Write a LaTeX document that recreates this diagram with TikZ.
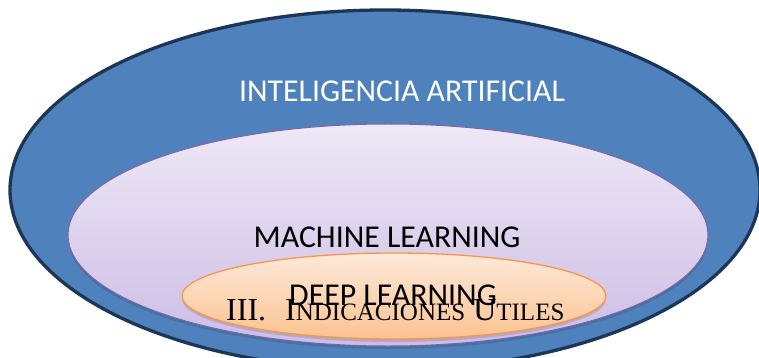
\documentclass[tikz,border=0pt]{standalone}
\usepackage{fontspec}
\setmainfont{Liberation Serif}
\newfontfamily\calfont{Carlito}
\usepackage{xcolor}
\definecolor{aiblue}{HTML}{4F81BD}
\definecolor{aiedge}{HTML}{1B3656}
\definecolor{mledge}{HTML}{8064A2}
\definecolor{mltop}{HTML}{EEE8F6}
\definecolor{mlbot}{HTML}{CDBDE5}
\definecolor{dledge}{HTML}{F79646}
\definecolor{dltop}{HTML}{FEE9DA}
\definecolor{dlbot}{HTML}{FBC391}
\newcommand{\bigsz}{\fontsize{32}{32}\selectfont}
\newcommand{\smsz}{\fontsize{25}{25}\selectfont}
\tikzset{
    aisty/.style={draw=aiedge,line width=3.3pt,fill=aiblue},
    mlsty/.style={draw=mledge,line width=1pt,top color=mltop,bottom color=mlbot},
    dlsty/.style={draw=dledge,line width=1.3pt,top color=dltop,bottom color=dlbot},
    shadsty/.style={fill=black,opacity=0.12},
    labsty/.style={font=\calfont\fontsize{31.8}{32}\selectfont,inner sep=0pt,anchor=base},
    headsty/.style={font=\bigsz,inner sep=0pt,anchor=base west},
}

\begin{document}
\begin{tikzpicture}[x=1pt,y=-1pt]
  \useasboundingbox (0,0) rectangle (759,358);
  \clip (0,0) rectangle (759,358);

  % outer
  \draw[aisty] (385,190) ellipse [x radius=375, y radius=180];
  % middle
  \fill[shadsty] (388,238) ellipse [x radius=320, y radius=111];
  \draw[mlsty] (388,235) ellipse [x radius=320, y radius=111];
  % inner
  \fill[shadsty] (394,299) ellipse [x radius=212, y radius=43];
  \draw[dlsty] (394,296) ellipse [x radius=212, y radius=43];

  \node[labsty,text=white] (ai) at (402,102) {INTELIGENCIA ARTIFICIAL};
  \node[labsty] (ml) at (387,247) {MACHINE LEARNING};
  \node[labsty] (dl) at (393,305) {DEEP LEARNING};
  \node[headsty] (hd) at (226,320)
    {III.\hspace{19pt}I{\smsz NDICACIONES} U{\smsz TILES}};
\end{tikzpicture}
\end{document}
